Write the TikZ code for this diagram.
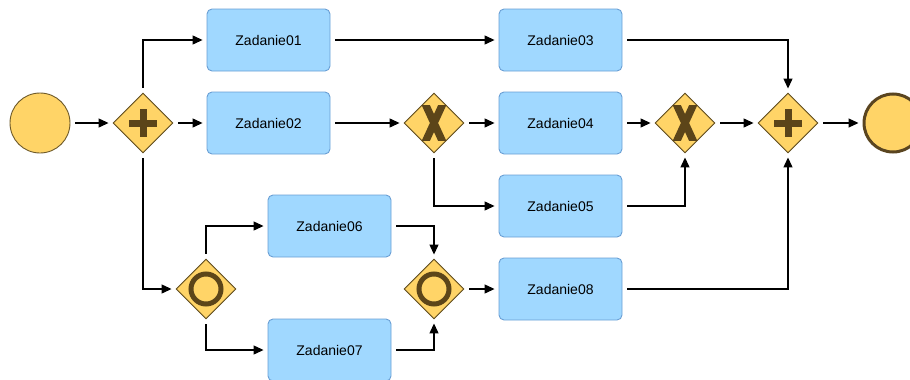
\documentclass[tikz,border=0pt]{standalone}
\usepackage{fontspec}
\setmainfont{Liberation Sans}
\usetikzlibrary{shapes.geometric,arrows.meta}

\definecolor{taskfill}{HTML}{A0D8FF}
\definecolor{taskline}{HTML}{6A9FD4}
\definecolor{gwfill}{HTML}{FFD467}
\definecolor{gwline}{HTML}{5C4A1E}
\definecolor{symcol}{HTML}{5C4519}
\definecolor{evline}{HTML}{6E5A2A}
\definecolor{endline}{HTML}{5A4520}

\tikzset{
  task/.style={rectangle, rounded corners=5pt, draw=taskline, fill=taskfill,
    minimum width=123pt, minimum height=62pt, inner sep=0pt, line width=0.9pt,
    font=\fontsize{14}{16}\selectfont},
  gw/.style={diamond, draw=gwline, fill=gwfill, minimum width=60pt,
    minimum height=60pt, inner sep=0pt, line width=0.9pt},
  startev/.style={circle, draw=evline, fill=gwfill, minimum size=60pt,
    inner sep=0pt, line width=0.9pt},
  endev/.style={circle, draw=endline, fill=gwfill, minimum size=58pt,
    inner sep=0pt, line width=3pt},
  flow/.style={-{Triangle[length=10pt,width=9pt]}, line width=1.2pt,
    shorten >=4pt, shorten <=5pt},
  plussym/.pic={
    \fill[symcol] (-14,-3.5) rectangle (14,3.5);
    \fill[symcol] (-3.5,-14) rectangle (3.5,14);
  },
  xsym/.pic={
    \begin{scope}
      \clip (-15,-17.5) rectangle (15,17.5);
      \draw[symcol, line width=7.5pt] (-9.2,-20) -- (9.2,20) (-9.2,20) -- (9.2,-20);
    \end{scope}
  },
  osym/.pic={
    \draw[symcol, line width=5pt] (0,0) circle (15pt);
  }
}

\begin{document}
\begin{tikzpicture}[x=1pt, y=-1pt]
  \path[use as bounding box, clip] (0,0) rectangle (910,380);

  % events
  \node[startev] (start) at (40,123) {};
  \node[endev]   (end)   at (893,123) {};

  % gateways
  \node[gw] (g1) at (143,123) {};
  \node[gw] (g2) at (434,123) {};
  \node[gw] (g3) at (685,123) {};
  \node[gw] (g4) at (788,123) {};
  \node[gw] (g5) at (206,289) {};
  \node[gw] (g6) at (434,289) {};
  \pic at (g1) {plussym};
  \pic at (g4) {plussym};
  \pic at (g2) {xsym};
  \pic at (g3) {xsym};
  \pic at (g5) {osym};
  \pic at (g6) {osym};

  % tasks
  \node[task] (t1) at (268.5,40)  {Zadanie01};
  \node[task] (t2) at (268.5,123) {Zadanie02};
  \node[task] (t3) at (560.5,40)  {Zadanie03};
  \node[task] (t4) at (560.5,123) {Zadanie04};
  \node[task] (t5) at (560.5,206) {Zadanie05};
  \node[task] (t6) at (329.5,226) {Zadanie06};
  \node[task] (t7) at (329.5,350) {Zadanie07};
  \node[task] (t8) at (560.5,289) {Zadanie08};

  % sequence flows
  \draw[flow] (start) -- (g1);
  \draw[flow] (g1.north) |- (t1.west);
  \draw[flow] (g1) -- (t2);
  \draw[flow] (g1.south) |- (g5.west);
  \draw[flow] (t1) -- (t3);
  \draw[flow] (t2) -- (g2);
  \draw[flow] (g2) -- (t4);
  \draw[flow] (g2.south) |- (t5.west);
  \draw[flow] (t3.east) -| (g4.north);
  \draw[flow] (t4) -- (g3);
  \draw[flow] (t5.east) -| (g3.south);
  \draw[flow] (g3) -- (g4);
  \draw[flow] (t8.east) -| (g4.south);
  \draw[flow] (g4) -- (end);
  \draw[flow] (g5.north) |- (t6.west);
  \draw[flow] (g5.south) |- (t7.west);
  \draw[flow] (t6.east) -| (g6.north);
  \draw[flow] (t7.east) -| (g6.south);
  \draw[flow] (g6) -- (t8);
\end{tikzpicture}
\end{document}
